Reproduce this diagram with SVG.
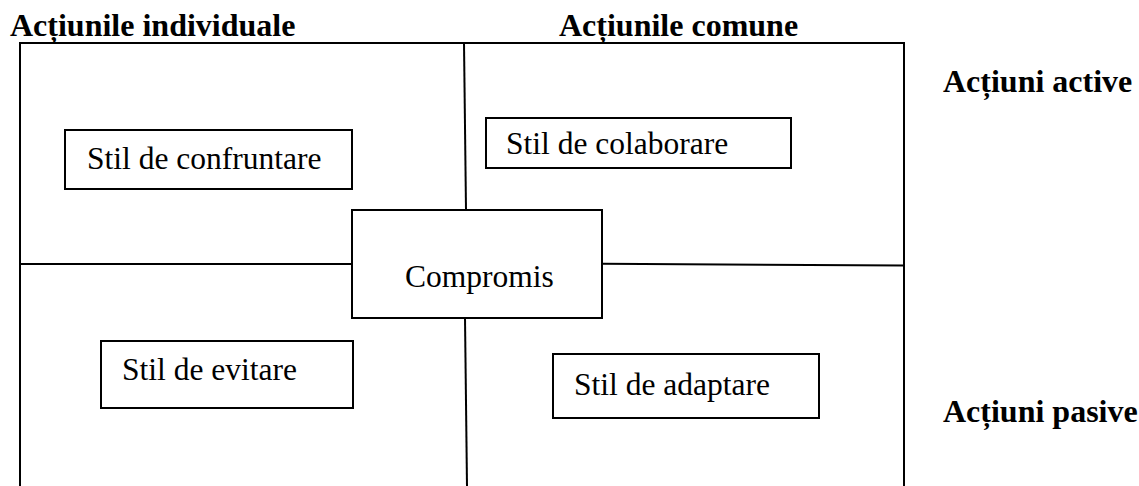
<svg xmlns="http://www.w3.org/2000/svg" width="1139" height="486" viewBox="0 0 1139 486">
  <style>
    .head { font-family: "Liberation Serif", "Times New Roman", serif; font-size: 32px; font-weight: bold; fill: #000; }
    .label { font-family: "Liberation Serif", "Times New Roman", serif; font-size: 31.5px; fill: #000; }
    .box { fill: #fff; stroke: #000; stroke-width: 2; }
    .line { fill: none; stroke: #000; stroke-width: 2; }
  </style>
  <rect width="1139" height="486" fill="#fff"/>

  <!-- column and row headings -->
  <g id="headings">
    <text class="head" x="10" y="36">Acțiunile individuale</text>
    <text class="head" x="559" y="36">Acțiunile comune</text>
    <text class="head" x="943" y="92">Acțiuni active</text>
    <text class="head" x="943" y="422">Acțiuni pasive</text>
  </g>

  <!-- outer frame and quadrant dividers -->
  <g id="connectors">
    <path class="line" d="M20,486 V43 H904 V486"/>
    <line class="line" x1="464" y1="43" x2="466" y2="210"/>
    <line class="line" x1="465" y1="318" x2="467" y2="486"/>
    <line class="line" x1="20" y1="264" x2="352" y2="264"/>
    <line class="line" x1="602" y1="263.7" x2="904" y2="265.5"/>
  </g>

  <g id="confruntare">
    <rect class="box" x="65" y="130" width="287" height="59"/>
    <text class="label" x="87" y="169">Stil de confruntare</text>
  </g>

  <g id="colaborare">
    <rect class="box" x="486" y="118" width="305" height="50"/>
    <text class="label" x="506" y="154">Stil de colaborare</text>
  </g>

  <g id="compromis">
    <rect class="box" x="352" y="210" width="250" height="108"/>
    <text class="label" x="405" y="287">Compromis</text>
  </g>

  <g id="evitare">
    <rect class="box" x="101" y="341" width="252" height="67"/>
    <text class="label" x="122" y="380">Stil de evitare</text>
  </g>

  <g id="adaptare">
    <rect class="box" x="553" y="354" width="266" height="64"/>
    <text class="label" x="574" y="395">Stil de adaptare</text>
  </g>
</svg>
